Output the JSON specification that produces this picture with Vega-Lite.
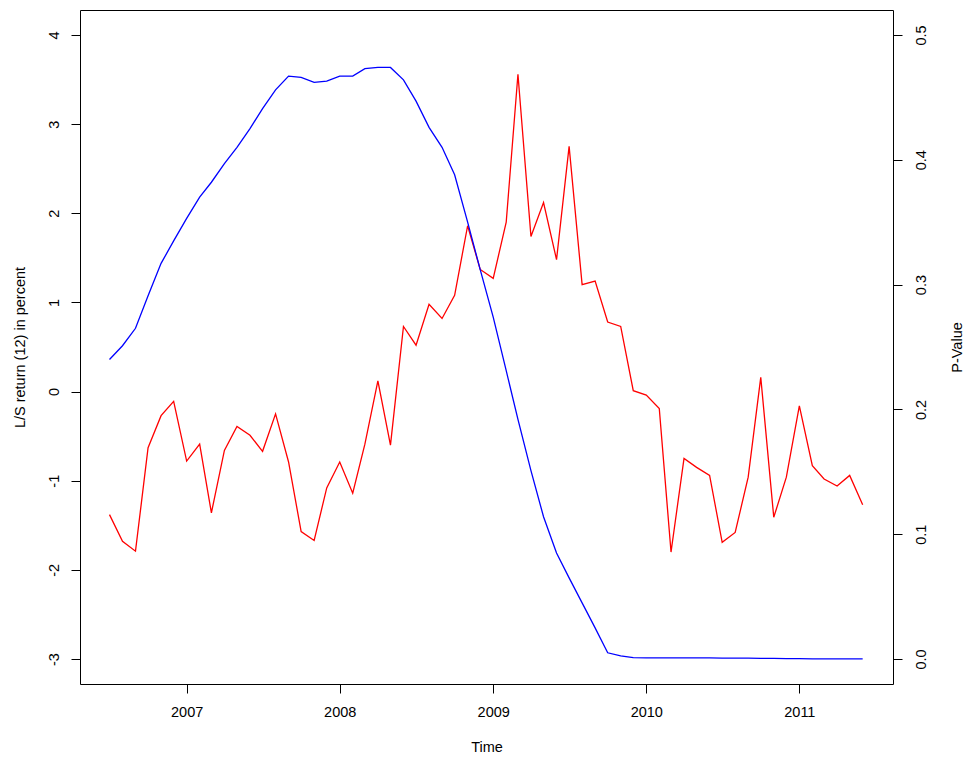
{
  "$schema": "https://vega.github.io/schema/vega-lite/v6.json",
  "width": 813,
  "height": 674,
  "autosize": {"type": "none"},
  "padding": {"left": 80, "top": 10, "right": 75, "bottom": 74},
  "background": "white",
  "config": {
    "view": {"stroke": "black", "strokeWidth": 1},
    "font": "Liberation Sans",
    "axis": {
      "grid": false,
      "domain": false,
      "tickColor": "black",
      "tickSize": 9,
      "tickWidth": 1,
      "labelFont": "Liberation Sans",
      "labelFontSize": 14.5,
      "labelColor": "black",
      "titleFont": "Liberation Sans",
      "titleFontSize": 14.5,
      "titleFontWeight": "normal",
      "titleColor": "black"
    }
  },
  "data": {
    "values": [
      {"date": "2006-07-01", "ret": -1.38, "p": 0.240},
      {"date": "2006-08-01", "ret": -1.68, "p": 0.251},
      {"date": "2006-09-01", "ret": -1.79, "p": 0.265},
      {"date": "2006-10-01", "ret": -0.63, "p": 0.291},
      {"date": "2006-11-01", "ret": -0.27, "p": 0.317},
      {"date": "2006-12-01", "ret": -0.11, "p": 0.335},
      {"date": "2007-01-01", "ret": -0.78, "p": 0.353},
      {"date": "2007-02-01", "ret": -0.59, "p": 0.370},
      {"date": "2007-03-01", "ret": -1.36, "p": 0.382},
      {"date": "2007-04-01", "ret": -0.66, "p": 0.397},
      {"date": "2007-05-01", "ret": -0.39, "p": 0.410},
      {"date": "2007-06-01", "ret": -0.49, "p": 0.425},
      {"date": "2007-07-01", "ret": -0.67, "p": 0.441},
      {"date": "2007-08-01", "ret": -0.25, "p": 0.456},
      {"date": "2007-09-01", "ret": -0.79, "p": 0.467},
      {"date": "2007-10-01", "ret": -1.57, "p": 0.466},
      {"date": "2007-11-01", "ret": -1.67, "p": 0.462},
      {"date": "2007-12-01", "ret": -1.08, "p": 0.463},
      {"date": "2008-01-01", "ret": -0.79, "p": 0.467},
      {"date": "2008-02-01", "ret": -1.14, "p": 0.467},
      {"date": "2008-03-01", "ret": -0.59, "p": 0.473},
      {"date": "2008-04-01", "ret": 0.12, "p": 0.474},
      {"date": "2008-05-01", "ret": -0.60, "p": 0.474},
      {"date": "2008-06-01", "ret": 0.73, "p": 0.464},
      {"date": "2008-07-01", "ret": 0.52, "p": 0.447},
      {"date": "2008-08-01", "ret": 0.98, "p": 0.426},
      {"date": "2008-09-01", "ret": 0.82, "p": 0.410},
      {"date": "2008-10-01", "ret": 1.08, "p": 0.388},
      {"date": "2008-11-01", "ret": 1.86, "p": 0.350},
      {"date": "2008-12-01", "ret": 1.37, "p": 0.312},
      {"date": "2009-01-01", "ret": 1.27, "p": 0.274},
      {"date": "2009-02-01", "ret": 1.90, "p": 0.231},
      {"date": "2009-03-01", "ret": 3.56, "p": 0.192},
      {"date": "2009-04-01", "ret": 1.74, "p": 0.151},
      {"date": "2009-05-01", "ret": 2.12, "p": 0.114},
      {"date": "2009-06-01", "ret": 1.48, "p": 0.085},
      {"date": "2009-07-01", "ret": 2.75, "p": 0.065},
      {"date": "2009-08-01", "ret": 1.20, "p": 0.045},
      {"date": "2009-09-01", "ret": 1.24, "p": 0.025},
      {"date": "2009-10-01", "ret": 0.78, "p": 0.005},
      {"date": "2009-11-01", "ret": 0.73, "p": 0.0025},
      {"date": "2009-12-01", "ret": 0.01, "p": 0.0012},
      {"date": "2010-01-01", "ret": -0.04, "p": 0.001},
      {"date": "2010-02-01", "ret": -0.19, "p": 0.001},
      {"date": "2010-03-01", "ret": -1.80, "p": 0.001},
      {"date": "2010-04-01", "ret": -0.75, "p": 0.001},
      {"date": "2010-05-01", "ret": -0.85, "p": 0.001},
      {"date": "2010-06-01", "ret": -0.94, "p": 0.0009},
      {"date": "2010-07-01", "ret": -1.69, "p": 0.0008},
      {"date": "2010-08-01", "ret": -1.58, "p": 0.0008},
      {"date": "2010-09-01", "ret": -0.96, "p": 0.0007},
      {"date": "2010-10-01", "ret": 0.16, "p": 0.0006},
      {"date": "2010-11-01", "ret": -1.41, "p": 0.0005},
      {"date": "2010-12-01", "ret": -0.96, "p": 0.0004},
      {"date": "2011-01-01", "ret": -0.16, "p": 0.0003},
      {"date": "2011-02-01", "ret": -0.83, "p": 0.0002},
      {"date": "2011-03-01", "ret": -0.98, "p": 0.0002},
      {"date": "2011-04-01", "ret": -1.06, "p": 0.0001},
      {"date": "2011-05-01", "ret": -0.94, "p": 0.0001},
      {"date": "2011-06-01", "ret": -1.27, "p": 0.0001}
    ]
  },
  "encoding": {
    "x": {
      "field": "date",
      "type": "temporal",
      "scale": {
        "type": "utc",
        "domain": [
          {"year": 2006, "month": 4, "date": 21, "hours": 16, "utc": true},
          {"year": 2011, "month": 8, "date": 12, "hours": 8, "utc": true}
        ],
        "nice": false
      },
      "axis": {
        "orient": "bottom",
        "values": [
          {"year": 2007, "month": 1, "date": 1, "utc": true},
          {"year": 2008, "month": 1, "date": 1, "utc": true},
          {"year": 2009, "month": 1, "date": 1, "utc": true},
          {"year": 2010, "month": 1, "date": 1, "utc": true},
          {"year": 2011, "month": 1, "date": 1, "utc": true}
        ],
        "format": "%Y",
        "formatType": "utc",
        "labelAngle": 0,
        "labelAlign": "center",
        "labelBaseline": "top",
        "labelPadding": 12,
        "title": "Time",
        "titleBaseline": "alphabetic",
        "titleAlign": "center",
        "titleX": 406.5,
        "titleY": 67
      }
    }
  },
  "layer": [
    {
      "mark": {"type": "line", "color": "#ff0000", "strokeWidth": 1.3},
      "encoding": {
        "y": {
          "field": "ret",
          "type": "quantitative",
          "scale": {"domain": [-3.28, 4.28], "nice": false, "zero": false},
          "axis": {
            "orient": "left",
            "values": [-3, -2, -1, 0, 1, 2, 3, 4],
            "labelExpr": "'' + datum.value",
            "labelAngle": -90,
            "labelAlign": "center",
            "labelBaseline": "bottom",
            "labelPadding": 10,
            "title": "L/S return (12) in percent",
            "titleAngle": -90,
            "titleAlign": "center",
            "titleBaseline": "middle",
            "titleX": -60,
            "titleY": 337
          }
        }
      }
    },
    {
      "mark": {"type": "line", "color": "#0000ff", "strokeWidth": 1.3},
      "encoding": {
        "y": {
          "field": "p",
          "type": "quantitative",
          "scale": {"domain": [-0.02, 0.52], "nice": false, "zero": false},
          "axis": {
            "orient": "right",
            "values": [0, 0.1, 0.2, 0.3, 0.4, 0.5],
            "format": ".1f",
            "labelAngle": -90,
            "labelAlign": "center",
            "labelBaseline": "top",
            "labelPadding": 12,
            "title": "P-Value",
            "titleAngle": -90,
            "titleAlign": "center",
            "titleBaseline": "middle",
            "titleX": 64,
            "titleY": 337
          }
        }
      }
    }
  ],
  "resolve": {"scale": {"y": "independent"}}
}
